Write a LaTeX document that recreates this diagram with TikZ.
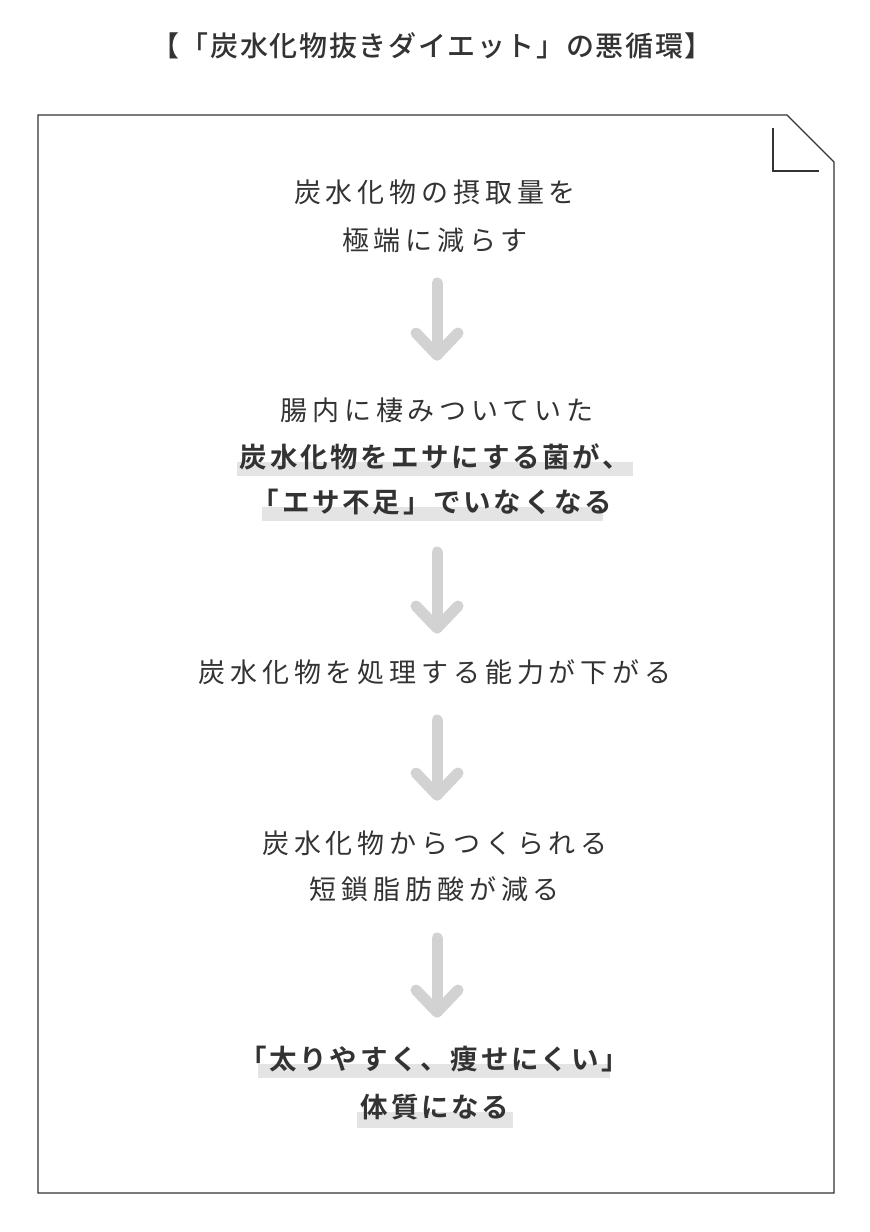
\documentclass[tikz,border=0pt]{standalone}
\usepackage{fontspec}
\newfontfamily\jpr[LetterSpace=18]{Noto Sans CJK JP}
\newfontfamily\jpb[LetterSpace=10]{Noto Sans CJK JP Bold}
\newfontfamily\jpt[LetterSpace=6]{Noto Sans CJK JP Medium}
\definecolor{ink}{HTML}{333333}
\definecolor{arr}{HTML}{D2D2D2}
\definecolor{hl}{HTML}{E4E4E4}
\begin{document}
\begin{tikzpicture}[x=1pt,y=-1pt,
  txt/.style={inner sep=0pt,text=ink,font=\fontsize{27}{32}\jpr},
  btxt/.style={inner sep=0pt,text=ink,font=\fontsize{27.5}{32}\jpb},
  downarrow/.style={draw=arr,line width=11pt,line cap=round,line join=round}]
\useasboundingbox (0,0) rectangle (870,1232);
\fill[hl] (237,462) rectangle (633,476);
\fill[hl] (262,507) rectangle (603,521);
\fill[hl] (258,1064) rectangle (610,1078);
\fill[hl] (357,1112) rectangle (513,1128);
\node[inner sep=0pt,text=ink,font=\fontsize{28}{32}\jpt] (title) at (432,46) {【「炭水化物抜きダイエット」の悪循環】};
\draw[ink,line width=1.3pt] (38,115) -- (787,115) -- (834,162) -- (834,1193) -- (38,1193) -- cycle;
\draw[ink,line width=1.3pt] (773,128) -- (773,171) -- (819,171);
\node[txt] (a1) at (435,192) {炭水化物の摂取量を};
\node[txt] (a2) at (435,240) {極端に減らす};
\node[txt] (b1) at (437,410) {腸内に棲みついていた};
\node[btxt] (b2) at (435,457) {炭水化物をエサにする菌が、};
\node[btxt] (b3) at (432,502) {「エサ不足」でいなくなる};
\node[txt] (c1) at (435,672) {炭水化物を処理する能力が下がる};
\node[txt] (d1) at (435,843) {炭水化物からつくられる};
\node[txt] (d2) at (435,889) {短鎖脂肪酸が減る};
\node[btxt] (e1) at (434,1059) {「太りやすく、痩せにくい」};
\node[btxt] (e2) at (435,1107) {体質になる};
\foreach \top/\bot in {283/355,552/628,720/795,938/1012}{
  \draw[downarrow] (437,\top) -- (437,\bot);
  \draw[downarrow] (416,\bot-22) -- (437,\bot) -- (458,\bot-22);
}
\end{tikzpicture}
\end{document}
